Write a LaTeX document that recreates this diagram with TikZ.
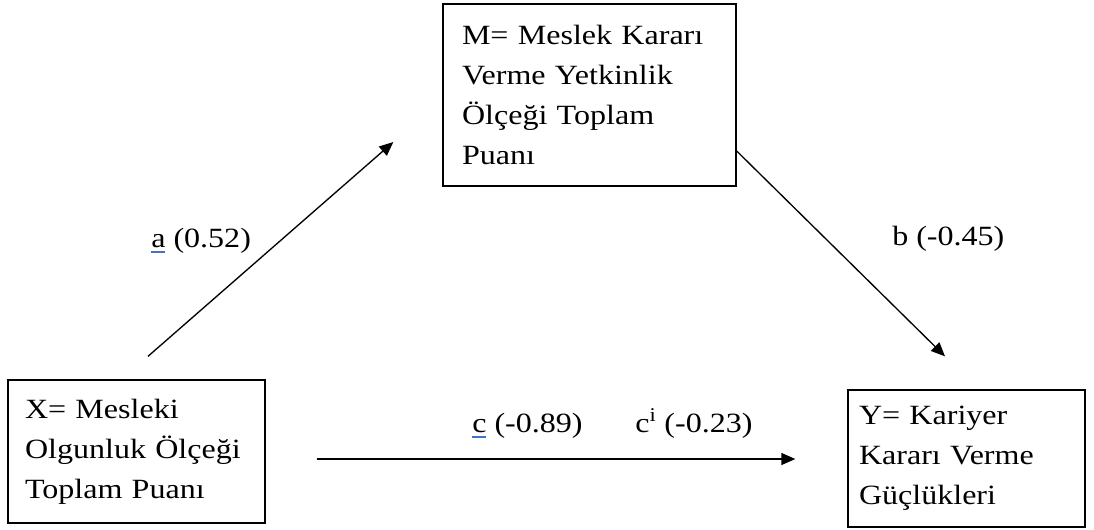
\documentclass[tikz,border=0pt]{standalone}
\usepackage{fontspec}
\setmainfont{Liberation Serif}[FakeStretch=1.15]
\usetikzlibrary{arrows.meta,positioning,calc}
\definecolor{ulblue}{RGB}{68,114,196}
\newcommand{\blueul}[1]{\setbox0\hbox{#1}\rlap{\color{ulblue}\rule[-4.6pt]{\wd0}{1.3pt}}\box0\relax}
\tikzset{
    line/.style  = {-{Triangle[length=10.5pt,width=9pt]}, line width=1pt, draw=black},
    block/.style = {draw=black, line width=1pt, align=left, inner ysep=0pt,
            font=\fontsize{20.9}{30}\selectfont},
    lbl/.style   = {inner sep=0pt, anchor=base west, font=\fontsize{20.9}{30}\selectfont},
}

\begin{document}
\begin{tikzpicture}[x=0.75pt,y=-0.75pt]
    \useasboundingbox (0,0) rectangle (1094,529);
    % Nodes
    \node[block, text width=191.25pt, inner xsep=14.25pt, minimum height=136.5pt] (M) at (589.5,95)
        {M= Meslek Kararı\\Verme Yetkinlik\\Ölçeği Toplam\\Puanı};
    \node[block, text width=167.25pt, inner xsep=12.75pt, minimum height=107.25pt] (X) at (136.5,451.5)
        {X= Mesleki\\Olgunluk Ölçeği\\Toplam Puanı};
    \node[block, text width=161.25pt, inner xsep=8.25pt, minimum height=102.75pt] (Y) at (966.5,458.5)
        {Y= Kariyer\\Kararı Verme\\Güçlükleri};
    % path coefficients
    \node[lbl] (la) at (151,247) {\blueul{a} (0.52)};
    \node[lbl] (lb) at (892,245) {b (-0.45)};
    \node[lbl] (lc) at (472,432) {\blueul{c} (-0.89)};
    \node[lbl] (lci) at (635,432) {c\textsuperscript{i} (-0.23)};
    % Arrows
    \draw[line] ($(X.north)+(11.5,-23)$) -- ($(M.west)+(-49,47)$);
    \draw[line] ($(M.east)+(0,56)$) -- ($(Y.north)+(-21.5,-33)$);
    \draw[line] ($(X.east)+(51,7.5)$) -- ($(Y.west)+(-52,0.5)$);
\end{tikzpicture}
\end{document}
